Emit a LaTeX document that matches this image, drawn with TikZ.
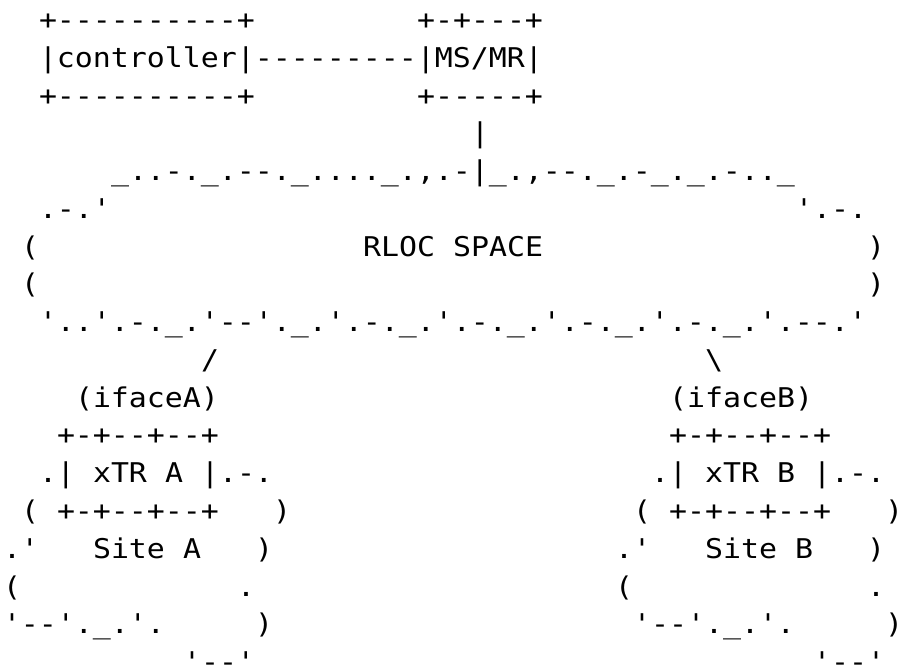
\documentclass[tikz,border=0pt]{standalone}
\usepackage{fontspec}
\setmonofont[FakeStretch=1.1]{DejaVu Sans Mono}
\tikzset{
  txt/.style={inner sep=0pt, outer sep=0pt, anchor=base west,
    font=\ttfamily\fontsize{27.18}{30}\selectfont, text=black}
}
% #1 = line (1..18), #2 = column (0..49), #3 = text
\newcommand\Row[3]{\node[txt] (n#1c#2) at ({(3+18*#2)*1pt}, {(635.5-37.77*(#1-1))*1pt}) {#3};}
\begin{document}
\begin{tikzpicture}
\useasboundingbox (0,0) rectangle (904pt,665pt);
\fill[white] (0,0) rectangle (904pt,665pt);
% controller and MS/MR
\Row{1}{2}{+----------+}
\Row{1}{23}{+-+---+}
\Row{2}{2}{|controller|---------|MS/MR|}
\Row{3}{2}{+----------+}
\Row{3}{23}{+-----+}
\Row{4}{26}{|}
% RLOC space cloud
\Row{5}{6}{\_..-.\_.--.\_....\_.,.-|\_.,--.\_.-\_.\_.-..\_}
\Row{6}{2}{.-.'}
\Row{6}{44}{'.-.}
\Row{7}{1}{(}
\Row{7}{20}{RLOC}
\Row{7}{25}{SPACE}
\Row{7}{48}{)}
\Row{8}{1}{(}
\Row{8}{48}{)}
\Row{9}{2}{'..'.-.\_.'--'.\_.'.-.\_.'.-.\_.'.-.\_.'.-.\_.'.--.'}
\Row{10}{11}{/}
\Row{10}{39}{\textbackslash}
\Row{11}{4}{(ifaceA)}
\Row{11}{37}{(ifaceB)}
% Site A
\Row{12}{3}{+-+--+--+}
\Row{13}{2}{.|}
\Row{13}{5}{xTR}
\Row{13}{9}{A}
\Row{13}{11}{|.-.}
\Row{14}{1}{(}
\Row{14}{3}{+-+--+--+}
\Row{14}{15}{)}
\Row{15}{0}{.'}
\Row{15}{5}{Site}
\Row{15}{10}{A}
\Row{15}{14}{)}
\Row{16}{0}{(}
\Row{16}{13}{.}
\Row{17}{0}{'--'.\_.'.}
\Row{17}{14}{)}
\Row{18}{10}{'--'}
% Site B
\Row{12}{37}{+-+--+--+}
\Row{13}{36}{.|}
\Row{13}{39}{xTR}
\Row{13}{43}{B}
\Row{13}{45}{|.-.}
\Row{14}{35}{(}
\Row{14}{37}{+-+--+--+}
\Row{14}{49}{)}
\Row{15}{34}{.'}
\Row{15}{39}{Site}
\Row{15}{44}{B}
\Row{15}{48}{)}
\Row{16}{34}{(}
\Row{16}{48}{.}
\Row{17}{35}{'--'.\_.'.}
\Row{17}{49}{)}
\Row{18}{45}{'--'}
\end{tikzpicture}
\end{document}
